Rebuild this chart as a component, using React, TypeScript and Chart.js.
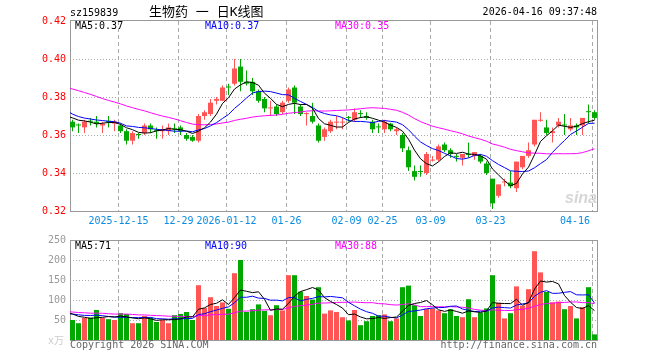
import React, { useEffect, useRef } from 'react';
import { Chart, registerables } from 'chart.js';

Chart.register(...registerables);

// ---------------- data ----------------
const dates: string[] = [
  '2025-12-03','2025-12-04','2025-12-05','2025-12-08','2025-12-09','2025-12-10','2025-12-11','2025-12-12',
  '2025-12-15','2025-12-16','2025-12-17','2025-12-18','2025-12-19','2025-12-22','2025-12-23','2025-12-24','2025-12-25','2025-12-26',
  '2025-12-29','2025-12-30','2025-12-31','2026-01-05','2026-01-06','2026-01-07','2026-01-08','2026-01-09',
  '2026-01-12','2026-01-13','2026-01-14','2026-01-15','2026-01-16','2026-01-19','2026-01-20','2026-01-21','2026-01-22','2026-01-23',
  '2026-01-26','2026-01-27','2026-01-28','2026-01-29','2026-01-30','2026-02-02','2026-02-03','2026-02-04','2026-02-05','2026-02-06',
  '2026-02-09','2026-02-10','2026-02-11','2026-02-12','2026-02-13','2026-02-24',
  '2026-02-25','2026-02-26','2026-02-27','2026-03-02','2026-03-03','2026-03-04','2026-03-05','2026-03-06',
  '2026-03-09','2026-03-10','2026-03-11','2026-03-12','2026-03-13','2026-03-16','2026-03-17','2026-03-18','2026-03-19','2026-03-20',
  '2026-03-23','2026-03-24','2026-03-25','2026-03-26','2026-03-27','2026-03-30','2026-03-31','2026-04-01','2026-04-02','2026-04-03',
  '2026-04-07','2026-04-08','2026-04-09','2026-04-10','2026-04-13','2026-04-14','2026-04-15','2026-04-16',
];

const opens: number[] = [
  0.367,0.3655,0.364,0.3675,0.367,0.365,0.3675,0.366,0.365,0.362,
  0.357,0.3605,0.361,0.365,0.3625,0.362,0.362,0.3635,0.364,0.360,
  0.359,0.357,0.370,0.371,0.378,0.378,0.3855,0.387,0.396,0.388,
  0.388,0.383,0.379,0.374,0.375,0.372,0.378,0.385,0.375,0.371,
  0.370,0.365,0.359,0.362,0.3665,0.3665,0.3695,0.368,0.3715,0.370,
  0.367,0.3645,0.363,0.366,0.362,0.360,0.352,0.341,0.341,0.340,
  0.3465,0.347,0.355,0.352,0.349,0.348,0.350,0.349,0.349,0.345,
  0.337,0.328,0.335,0.335,0.332,0.343,0.349,0.355,0.3675,0.364,
  0.361,0.365,0.3655,0.363,0.365,0.365,0.3725,0.372,
];
const highs: number[] = [
  0.368,0.366,0.368,0.369,0.370,0.367,0.370,0.368,0.366,0.363,
  0.362,0.361,0.366,0.366,0.364,0.365,0.366,0.366,0.365,0.361,
  0.360,0.371,0.373,0.379,0.380,0.386,0.387,0.400,0.400,0.394,
  0.390,0.384,0.380,0.378,0.376,0.378,0.385,0.386,0.376,0.372,
  0.377,0.366,0.364,0.368,0.370,0.369,0.370,0.374,0.373,0.372,
  0.368,0.366,0.368,0.3665,0.364,0.361,0.354,0.344,0.344,0.351,
  0.349,0.355,0.356,0.353,0.350,0.350,0.356,0.351,0.350,0.346,
  0.337,0.334,0.337,0.341,0.346,0.349,0.356,0.368,0.372,0.368,
  0.364,0.369,0.371,0.369,0.366,0.369,0.376,0.373,
];
const lows: number[] = [
  0.362,0.361,0.361,0.365,0.364,0.361,0.364,0.362,0.361,0.355,
  0.355,0.358,0.360,0.361,0.358,0.358,0.360,0.361,0.360,0.357,
  0.3565,0.356,0.368,0.370,0.376,0.378,0.381,0.386,0.383,0.386,
  0.381,0.377,0.372,0.370,0.370,0.371,0.377,0.371,0.370,0.365,
  0.366,0.356,0.357,0.361,0.363,0.363,0.367,0.367,0.369,0.368,
  0.361,0.361,0.361,0.362,0.360,0.351,0.341,0.336,0.338,0.339,
  0.346,0.346,0.351,0.348,0.346,0.344,0.348,0.347,0.345,0.339,
  0.321,0.327,0.333,0.332,0.330,0.342,0.348,0.354,0.367,0.360,
  0.356,0.364,0.360,0.362,0.360,0.360,0.366,0.368,
];
const closes: number[] = [
  0.364,0.365,0.367,0.367,0.366,0.366,0.367,0.367,0.362,0.357,
  0.361,0.360,0.365,0.363,0.362,0.363,0.364,0.363,0.362,0.358,
  0.357,0.370,0.372,0.377,0.379,0.385,0.385,0.395,0.388,0.387,
  0.383,0.378,0.374,0.3745,0.371,0.377,0.384,0.377,0.371,0.3715,
  0.367,0.357,0.363,0.367,0.367,0.367,0.369,0.372,0.371,0.369,
  0.363,0.364,0.367,0.363,0.363,0.353,0.343,0.338,0.3405,0.350,
  0.347,0.354,0.352,0.350,0.3485,0.350,0.3495,0.351,0.346,0.340,
  0.324,0.334,0.3355,0.333,0.346,0.349,0.352,0.368,0.368,0.361,
  0.362,0.367,0.365,0.365,0.364,0.369,0.372,0.369,
];
const volumes: number[] = [
  50,42,55,56,75,55,52,50,67,65,
  42,42,60,56,45,50,42,62,65,70,
  50,137,80,107,85,94,78,167,200,70,
  77,89,73,62,87,74,162,162,121,110,
  101,132,66,74,70,57,49,75,37,47,
  60,62,64,47,54,132,136,87,60,78,
  79,74,67,77,60,57,102,57,68,79,
  162,93,54,67,134,86,127,222,169,120,
  94,96,77,85,54,82,132,14,
];
// sessions before the visible window (needed for the moving averages)
const prevCloses: number[] = [
  0.390,0.392,0.395,0.397,0.398,0.400,0.396,0.393,0.390,0.391,
  0.388,0.386,0.389,0.392,0.390,0.388,0.385,0.387,0.390,0.386,
  0.383,0.378,0.375,0.372,0.371,0.369,0.371,0.369,0.370,0.371,
];
const prevVolumes: number[] = [
  72,80,75,90,70,65,85,78,60,72,
  68,74,66,80,70,62,75,68,71,77,
  64,62,70,58,68,67,72,66,70,67,
];

const tickDates = ['2025-12-15','2025-12-29','2026-01-12','2026-01-26','2026-02-09','2026-02-25','2026-03-09','2026-03-23','2026-04-16'];
const tickLabels = ['2025-12-15','12-29','2026-01-12','01-26','02-09','02-25','03-09','03-23','04-16'];
const priceTicks = [0.32, 0.34, 0.36, 0.38, 0.40, 0.42];
const volumeTicks = [0, 50, 100, 150, 200, 250];
const maPeriods = [5, 10, 30];
const priceMaLabels = ['MA5:0.37', 'MA10:0.37', 'MA30:0.35'];
const volumeMaLabels = ['MA5:71', 'MA10:90', 'MA30:88'];
const titleCode = 'sz159839';
const titleName = '生物药 一 日K线图';
const timestamp = '2026-04-16 09:37:48';
const copyrightText = 'Copyright 2026 SINA.COM';
const siteText = 'http://finance.sina.com.cn';
const unitText = 'x万';
const watermarkText = 'sina';

// ---------------- style / layout ----------------
const W = 660, H = 360;
const LEFT = 70, RIGHT = 598;
const P_TOP = 21, P_BOTTOM = 211;
const V_TOP = 240, V_BOTTOM = 340;
const SLOT_OFFSET = 5 / 12;
const RED = '#ff5555';
const GREEN = '#00a800';
const MA_COLORS = ['#000000', '#0000ff', '#ff00ff'];
const MONO = '"DejaVu Sans Mono", "Noto Sans CJK SC", monospace';
const GRID = '#aaaaaa';
const FRAME = '#999999';
const DATE_COLOR = '#0a8ce0';

const tickIdx = tickDates.map((d) => dates.indexOf(d));
const colors = closes.map((c, i) => (c >= opens[i] ? RED : GREEN));

function movingAverage(prev: number[], vals: number[], n: number) {
  const all = prev.concat(vals);
  const out: { x: number; y: number }[] = [];
  for (let k = -1; k < vals.length; k++) {
    const end = prev.length + k;
    let s = 0;
    for (let j = end - n + 1; j <= end; j++) s += all[j];
    out.push({ x: k + SLOT_OFFSET, y: s / n });
  }
  return out;
}

function gridPlugin(hValues: number[], frameTopOffset: number) {
  return {
    id: 'gridFrame',
    beforeDatasetsDraw(chart: any) {
      const { ctx, chartArea: a, scales } = chart;
      const xs = scales.x, ys = scales.y;
      ctx.save();
      ctx.lineWidth = 1;
      ctx.strokeStyle = GRID;
      ctx.setLineDash([1, 2]);
      hValues.forEach((v) => {
        const py = Math.round(ys.getPixelForValue(v)) + 0.5;
        ctx.beginPath();
        ctx.moveTo(a.left, py);
        ctx.lineTo(a.right - 1, py);
        ctx.stroke();
      });
      ctx.setLineDash([4, 3]);
      tickIdx.forEach((i) => {
        const px = Math.round(xs.getPixelForValue(i)) + 0.5;
        ctx.beginPath();
        ctx.moveTo(px, a.top);
        ctx.lineTo(px, a.bottom);
        ctx.stroke();
      });
      ctx.setLineDash([]);
      ctx.strokeStyle = FRAME;
      const top = a.top - frameTopOffset;
      ctx.strokeRect(a.left + 0.5, top + 0.5, a.right - 1 - a.left, a.bottom - top);
      ctx.restore();
    },
  };
}

function candleDatasets() {
  const wick = dates.map((_, i) => ({ x: i + SLOT_OFFSET, y: [lows[i], highs[i]] }));
  const body = dates.map((_, i) => ({ x: i + SLOT_OFFSET, y: [opens[i], closes[i]] }));
  const lines = maPeriods.map((n, k) => ({
    type: 'line',
    data: movingAverage(prevCloses, closes, n),
    borderColor: MA_COLORS[k],
    borderWidth: 1,
    pointRadius: 0,
    tension: 0,
    fill: false,
    order: 0,
  }));
  return [
    { type: 'bar', data: wick, backgroundColor: colors, barThickness: 1, grouped: false, inflateAmount: 0, order: 2 },
    { type: 'bar', data: body, backgroundColor: colors, barThickness: 5, grouped: false, inflateAmount: 0, minBarLength: 1, order: 1 },
    ...lines,
  ];
}

function volumeDatasets() {
  const bars = dates.map((_, i) => ({ x: i + SLOT_OFFSET, y: volumes[i] }));
  const lines = maPeriods.map((n, k) => ({
    type: 'line',
    data: movingAverage(prevVolumes, volumes, n),
    borderColor: MA_COLORS[k],
    borderWidth: 1,
    pointRadius: 0,
    tension: 0,
    fill: false,
    order: 0,
  }));
  return [
    { type: 'bar', data: bars, backgroundColor: colors, barThickness: 5, grouped: false, inflateAmount: 0, order: 1 },
    ...lines,
  ];
}

const xScale = {
  type: 'linear',
  display: false,
  min: 0,
  max: dates.length,
  offset: false,
  grid: { offset: false, display: false },
};

function priceConfig(): any {
  return {
    type: 'bar',
    data: { datasets: candleDatasets() },
    options: {
      responsive: false,
      animation: false,
      events: [],
      layout: { autoPadding: false, padding: { left: 0, right: W - RIGHT, top: P_TOP, bottom: H - P_BOTTOM } },
      plugins: { legend: { display: false }, tooltip: { enabled: false } },
      scales: {
        x: xScale,
        y: {
          type: 'linear',
          min: priceTicks[0],
          max: priceTicks[priceTicks.length - 1],
          beginAtZero: false,
          afterBuildTicks: (s: any) => { s.ticks = priceTicks.map((v) => ({ value: v })); },
          afterFit: (s: any) => { s.width = LEFT; },
          grid: { display: false, drawTicks: false },
          border: { display: false },
          ticks: { color: '#ff0000', padding: 4, font: { family: MONO, size: 10 }, callback: (v: any) => Number(v).toFixed(2) },
        },
      },
    },
    plugins: [
      gridPlugin(priceTicks.slice(1, -1), 1),
      {
        id: 'priceBack',
        beforeDatasetsDraw(chart: any) {
          const { ctx, chartArea: a } = chart;
          ctx.save();
          ctx.fillStyle = '#d6d6d6';
          ctx.font = 'italic bold 16px "Liberation Sans", Arial, sans-serif';
          ctx.textAlign = 'right';
          ctx.textBaseline = 'alphabetic';
          ctx.fillText(watermarkText, a.right - 1, a.bottom - 8);
          ctx.restore();
        },
      },
      {
        id: 'priceText',
        afterDraw(chart: any) {
          const { ctx, chartArea: a, scales } = chart;
          ctx.save();
          ctx.textBaseline = 'middle';
          ctx.font = `10px ${MONO}`;
          ctx.fillStyle = '#000';
          ctx.textAlign = 'left';
          ctx.fillText(titleCode, a.left, 13);
          ctx.textAlign = 'right';
          ctx.fillText(timestamp, a.right - 1, 12.5);
          ctx.font = `13px ${MONO}`;
          ctx.textAlign = 'left';
          ctx.fillText(titleName, 149, 13);
          ctx.font = `10px ${MONO}`;
          priceMaLabels.forEach((t, k) => {
            ctx.fillStyle = MA_COLORS[k];
            ctx.fillText(t, a.left + 5 + k * 130, 26);
          });
          ctx.fillStyle = DATE_COLOR;
          tickIdx.forEach((i, n) => {
            const label = tickLabels[n];
            const w = ctx.measureText(label).width;
            const cx = scales.x.getPixelForValue(i) + 0.5;
            let left = cx - w / 2;
            if (left + w > a.right - 8) left = a.right - 8 - w;
            ctx.fillText(label, left, 221);
          });
          ctx.restore();
        },
      },
    ],
  };
}

function volumeConfig(): any {
  return {
    type: 'bar',
    data: { datasets: volumeDatasets() },
    options: {
      responsive: false,
      animation: false,
      events: [],
      layout: { autoPadding: false, padding: { left: 0, right: W - RIGHT, top: V_TOP, bottom: H - V_BOTTOM } },
      plugins: { legend: { display: false }, tooltip: { enabled: false } },
      scales: {
        x: xScale,
        y: {
          type: 'linear',
          min: volumeTicks[0],
          max: volumeTicks[volumeTicks.length - 1],
          afterBuildTicks: (s: any) => { s.ticks = volumeTicks.slice(1).map((v) => ({ value: v })); },
          afterFit: (s: any) => { s.width = LEFT; },
          grid: { display: false, drawTicks: false },
          border: { display: false },
          ticks: { color: '#9a9a9a', padding: 4, font: { family: MONO, size: 10 }, callback: (v: any) => String(v) },
        },
      },
    },
    plugins: [
      gridPlugin(volumeTicks.slice(1, -1), 0),
      {
        id: 'volText',
        afterDraw(chart: any) {
          const { ctx, chartArea: a } = chart;
          ctx.save();
          ctx.textBaseline = 'middle';
          ctx.font = `10px ${MONO}`;
          ctx.textAlign = 'left';
          volumeMaLabels.forEach((t, k) => {
            ctx.fillStyle = MA_COLORS[k];
            ctx.fillText(t, a.left + 5 + k * 130, 246.5);
          });
          ctx.fillStyle = '#cccccc';
          ctx.textAlign = 'right';
          ctx.fillText(unitText, a.left - 6, 341);
          ctx.fillStyle = '#666666';
          ctx.textAlign = 'left';
          ctx.fillText(copyrightText, a.left, 345);
          ctx.textAlign = 'right';
          ctx.fillText(siteText, a.right - 1, 345);
          ctx.restore();
        },
      },
    ],
  };
}

export default function App() {
  const priceRef = useRef<HTMLCanvasElement>(null);
  const volRef = useRef<HTMLCanvasElement>(null);
  useEffect(() => {
    document.body.style.margin = '0';
    const c1 = new Chart(priceRef.current as HTMLCanvasElement, priceConfig());
    const c2 = new Chart(volRef.current as HTMLCanvasElement, volumeConfig());
    return () => {
      c1.destroy();
      c2.destroy();
    };
  }, []);
  return (
    <div style={{ position: 'relative', width: W, height: H, background: '#ffffff', overflow: 'hidden' }}>
      <canvas ref={priceRef} width={W} height={H} style={{ position: 'absolute', left: 0, top: 0 }} />
      <canvas ref={volRef} width={W} height={H} style={{ position: 'absolute', left: 0, top: 0 }} />
    </div>
  );
}
